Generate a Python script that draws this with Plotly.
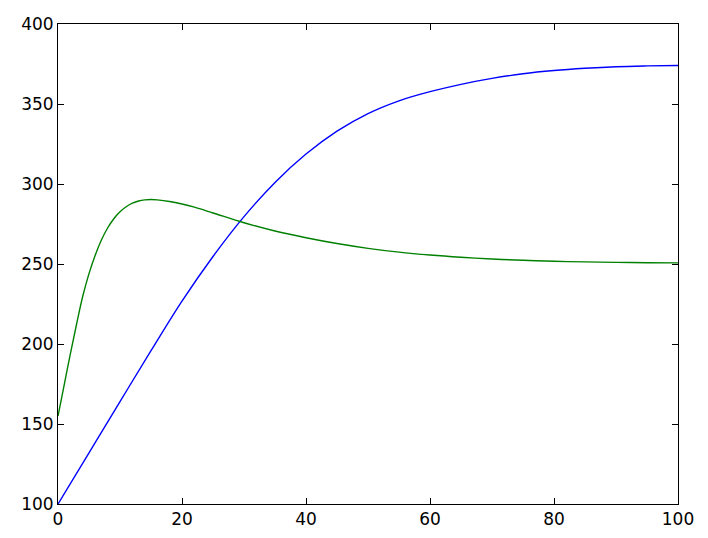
import plotly.graph_objects as go

# Blue series
blue_x = [0, 5, 10, 15, 20, 25, 30, 35, 40, 45, 50, 55, 60, 65, 70, 75, 80, 85, 90, 95, 100]
blue_y = [100, 132, 164, 195.8, 226.8, 254.7, 279.6, 301, 318.7, 333, 344, 352, 357.7, 362.3, 366, 368.9, 370.9, 372.3, 373.3, 373.8, 374.1]

# Green series
green_x = [0, 1, 2, 3, 4, 5, 6, 7, 8, 9, 10, 11, 12, 13, 14, 15, 16, 18, 20, 22, 25, 30, 35, 40, 45, 50,
           55, 60, 65, 70, 75, 80, 85, 90, 95, 100]
green_y = [155, 174.5, 194, 212.5, 230, 244, 255.5, 265, 272.5, 278.3, 282.6, 285.8, 288, 289.4, 290.1,
           290.3, 290.1, 289.1, 287.5, 285.5, 281.9, 275.8, 270.6, 266.4, 262.8, 259.8,
           257.4, 255.6, 254.2, 253.1, 252.3, 251.7, 251.3, 251, 250.8, 250.7]

x_ticks = [0, 20, 40, 60, 80, 100]
y_ticks = [100, 150, 200, 250, 300, 350, 400]

fig = go.Figure()
fig.add_trace(go.Scatter(x=blue_x, y=blue_y, mode="lines",
                         line=dict(color="#0000ff", width=1.4, shape="spline", smoothing=1)))
fig.add_trace(go.Scatter(x=green_x, y=green_y, mode="lines",
                         line=dict(color="#008000", width=1.4, shape="spline", smoothing=1)))

axis_common = dict(showgrid=False, zeroline=False, showline=True, linecolor="black", linewidth=1,
                   mirror="ticks", ticks="inside", ticklen=6, tickcolor="black", tickwidth=1,
                   automargin=False,
                   tickfont=dict(family="DejaVu Sans", size=17, color="black"))

fig.update_xaxes(range=[0, 100], tickvals=x_ticks, ticktext=[str(v) for v in x_ticks], **axis_common)
fig.update_yaxes(range=[100, 400], tickvals=y_ticks, ticktext=[str(v) for v in y_ticks], **axis_common)

fig.update_layout(width=700, height=530, showlegend=False,
                  margin=dict(l=50, r=30, t=16, b=34, pad=0),
                  paper_bgcolor="white", plot_bgcolor="white")

fig.write_html("out.html")
